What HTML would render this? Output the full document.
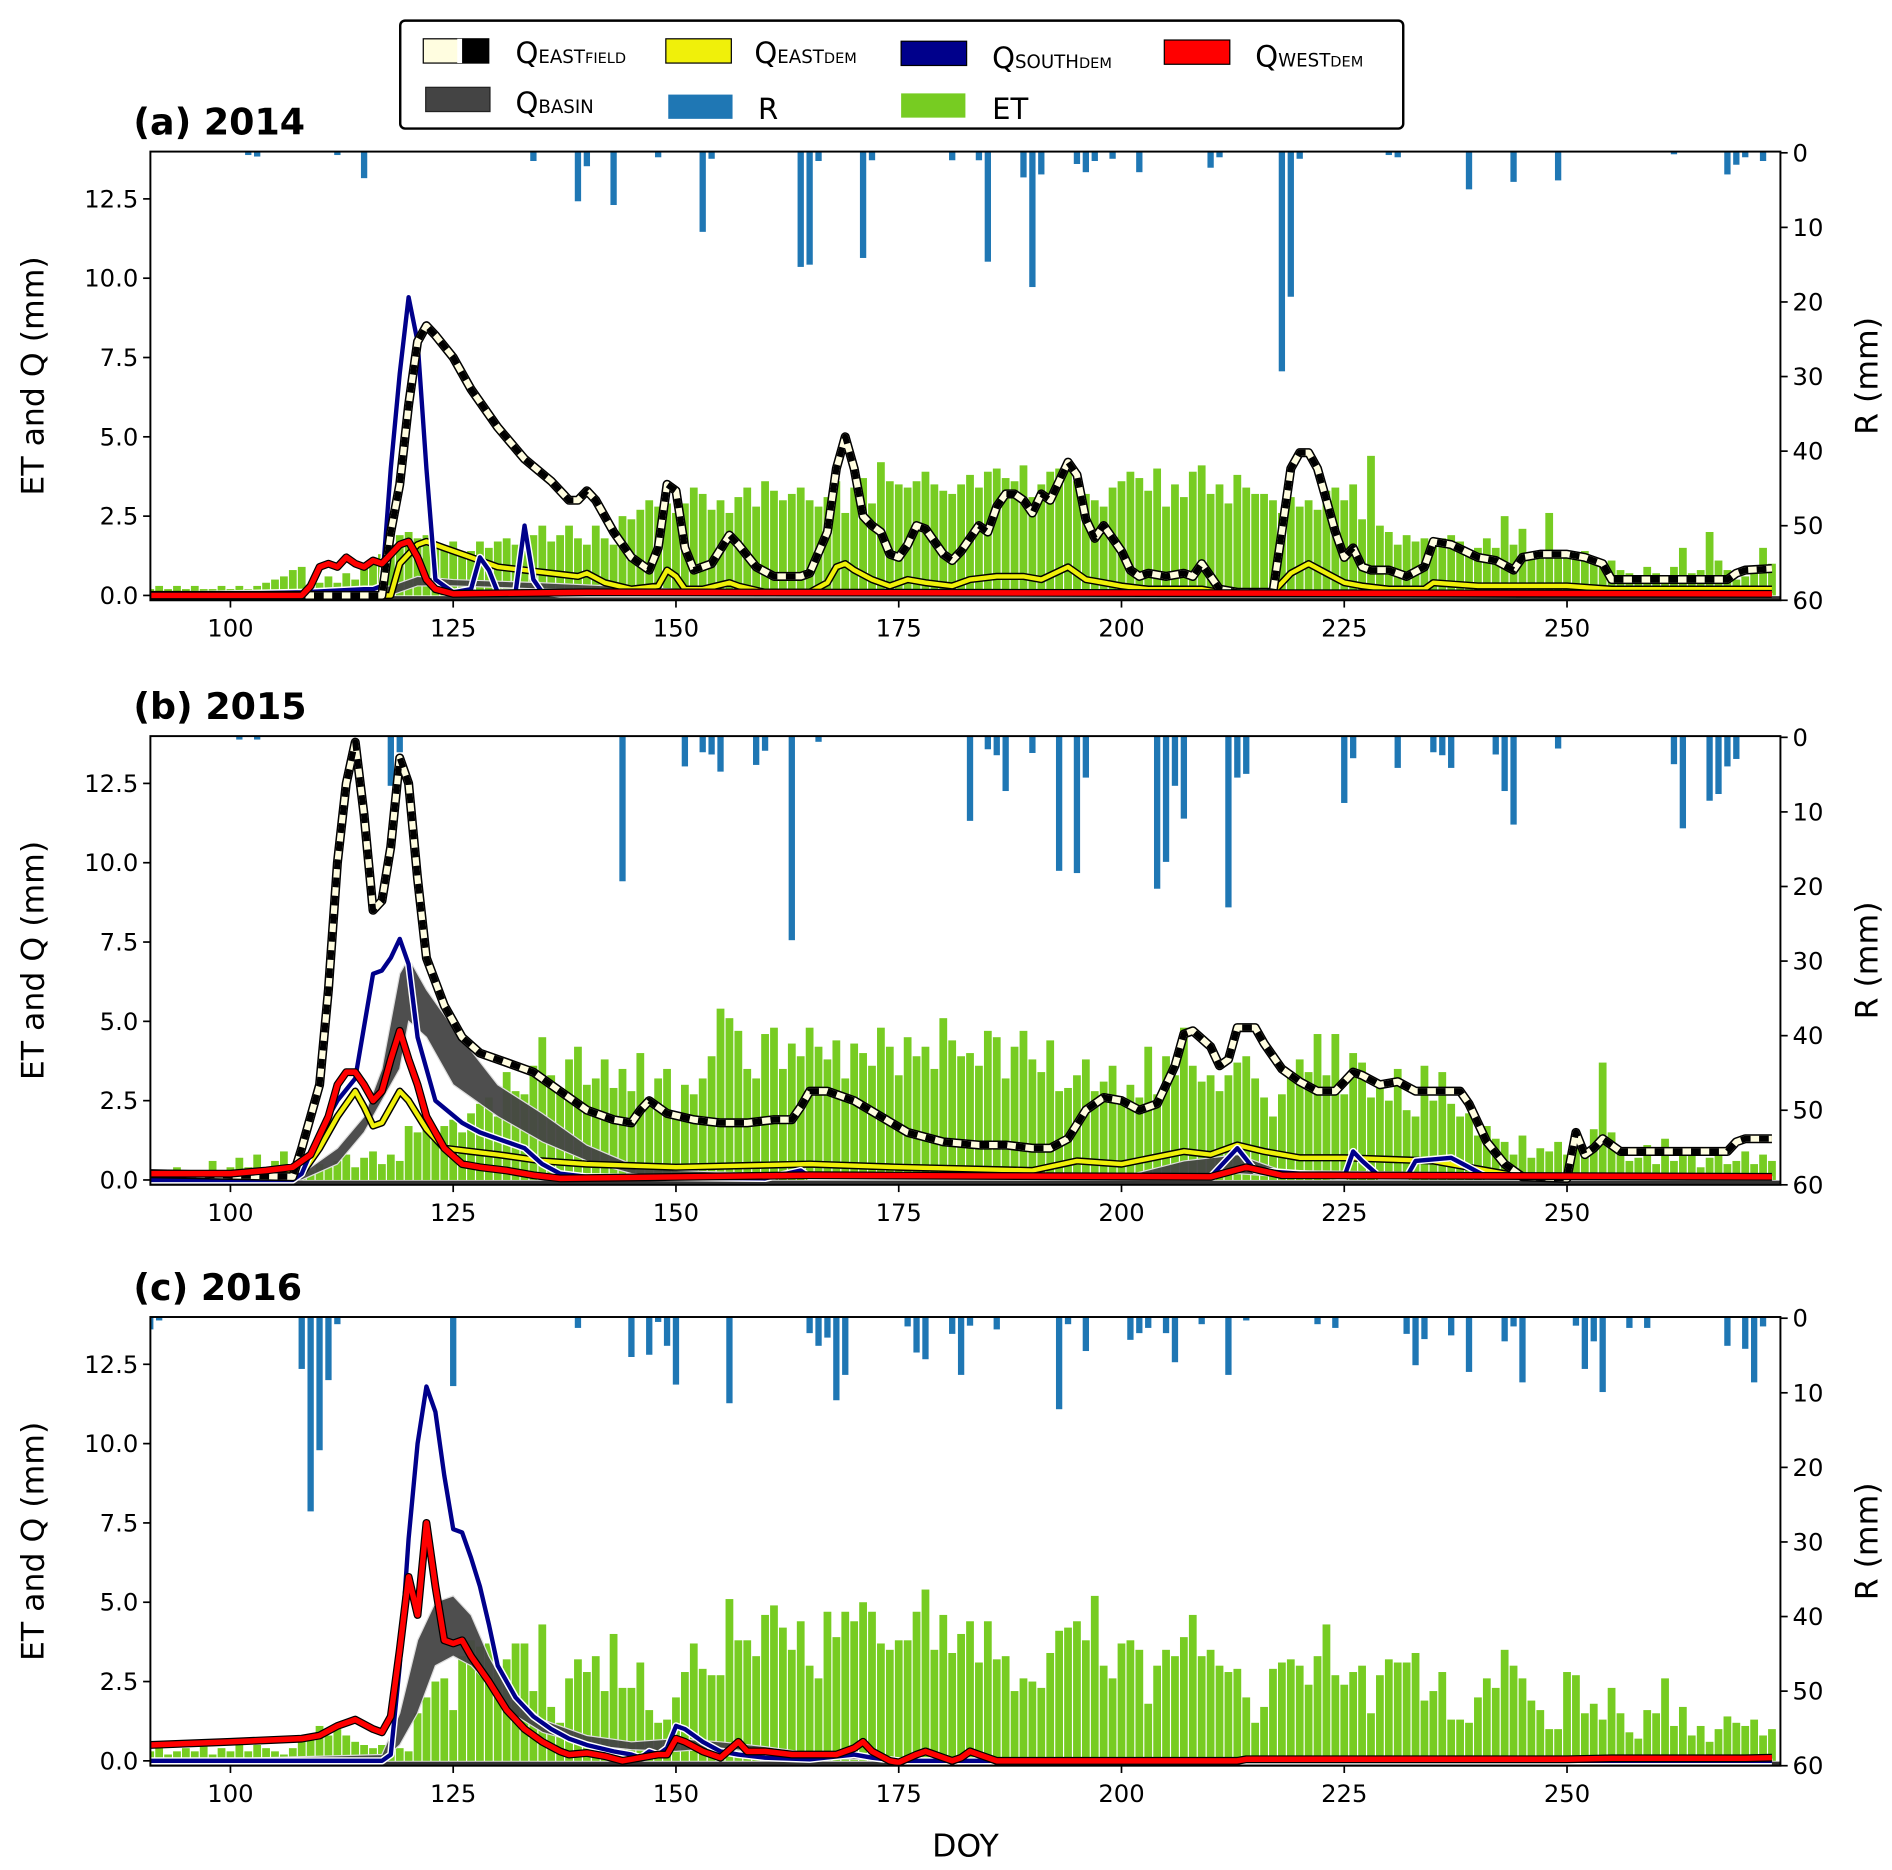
<!DOCTYPE html>
<html><head><meta charset="utf-8">
<style>
html,body{margin:0;padding:0;background:#fff;}
svg{display:block;font-family:"DejaVu Sans","Liberation Sans",sans-serif;}
</style></head>
<body>
<svg id="chart" width="1892" height="1870" viewBox="0 0 1560 1542" preserveAspectRatio="none" xmlns="http://www.w3.org/2000/svg">
<defs>
<clipPath id="clipA"><rect x="124" y="125" width="1344" height="370"/></clipPath>
<clipPath id="clipB"><rect x="124" y="607" width="1344" height="370"/></clipPath>
<clipPath id="clipC"><rect x="124" y="1086" width="1344" height="370"/></clipPath>
</defs>
<g>
<rect x="330" y="17" width="827" height="89" rx="4" fill="#fff" stroke="#000" stroke-width="2"/>
<g>
<rect x="349" y="32" width="54" height="20" fill="#fffde0" stroke="#000"/><rect x="380" y="32" width="23" height="20" fill="#000"/><rect x="377" y="32" width="4" height="20" fill="#fff"/>
<text x="425" y="52" font-size="24">Q<tspan font-size="15">EAST</tspan><tspan font-size="12">FIELD</tspan></text></g>
<g>
<rect x="549" y="32" width="54" height="20" fill="#f0f00a" stroke="#000"/>
<text x="622" y="52" font-size="24">Q<tspan font-size="15">EAST</tspan><tspan font-size="12">DEM</tspan></text></g>
<g>
<rect x="743" y="34" width="54" height="20" fill="#00008b" stroke="#000"/>
<text x="818" y="56" font-size="24">Q<tspan font-size="15">SOUTH</tspan><tspan font-size="12">DEM</tspan></text></g>
<g>
<rect x="960" y="33" width="54" height="20" fill="#f00" stroke="#000"/>
<text x="1035" y="55" font-size="24">Q<tspan font-size="15">WEST</tspan><tspan font-size="12">DEM</tspan></text></g>
<g>
<rect x="351" y="72" width="53" height="20" fill="#444" stroke="#222"/>
<text x="425" y="93" font-size="24">Q<tspan font-size="15">BASIN</tspan></text></g>
<g>
<rect x="551" y="78" width="53" height="20" fill="#1f77b4"/>
<text x="625" y="98" font-size="24">R</text></g>
<g>
<rect x="743" y="77" width="53" height="20" fill="#77cc22"/>
<text x="818" y="98" font-size="24">ET</text></g>
</g>
<g id="panels"></g>
<text x="796" y="1531" font-size="26" text-anchor="middle">DOY</text>
</svg>
<script>
// ---------- Panel (a) 2014 ----------
const etA=[.2,.3,.2,.3,.2,.3,.2,.2,.3,.2, .3,.2,.3,.4,.5,.6,.8,.9,.3,.4, .6,.4,.7,.5,.9,1.1,1.3,1.6,1.9,2.0, 1.8,1.9,1.6,1.5,1.7,1.3,1.4,1.7,1.5,1.7, 1.8,1.6,1.4,1.9,2.2,1.7,1.9,2.2,1.8,1.6, 2.2,1.8,1.6,2.5,2.4,2.7,3.0,2.8,2.9,2.6, 2.9,3.4,3.2,2.7,3.0,2.6,3.1,3.4,2.8,3.6, 3.3,3.0,3.2,3.4,3.0,2.8,3.1,3.6,2.6,3.4, 3.7,2.9,4.2,3.6,3.5,3.4,3.6,3.9,3.5,3.3, 3.2,3.5,3.8,3.4,3.9,4.0,3.7,3.6,4.1,3.1, 3.5,3.9,4.0,4.1,3.6,3.2,3.0,2.8,3.4,3.6, 3.9,3.7,3.3,4.0,2.8,3.5,3.1,3.9,4.1,3.2, 3.5,2.9,3.8,3.4,3.2,3.2,3.0,2.6,3.1,2.8, 3.0,2.7,3.3,3.4,3.0,3.5,2.4,4.4,2.2,2.0, 1.6,1.9,1.7,1.8,1.6,1.8,1.9,1.7,1.4,1.5, 1.8,1.5,2.5,1.6,2.1,1.2,1.4,2.6,1.3,1.4, 1.2,1.4,1.0,0.9,1.1,0.8,0.7,0.6,0.9,0.7, 0.6,0.9,1.5,0.7,0.8,2.0,1.1,0.8,0.5,0.6, 0.8,1.5,1.0];
const rDaysA=[102,103,112,115,134,139,140,143,148,153,154,164,165,166,171,172,181,184,185,189,190,191,195,196,197,199,202,210,211,218,219,220,230,231,239,244,249,262,268,269,270,272];
const rValsA=[0.3,0.5,0.3,3.4,1.1,6.5,1.8,7.0,0.6,10.6,0.8,15.3,15.0,1.1,14.1,1.0,1.0,1.0,14.6,3.3,18.0,2.9,1.5,2.6,1.1,0.8,2.6,2.0,0.6,29.3,19.3,0.8,0.3,0.6,4.9,3.9,3.7,0.2,2.9,1.6,0.6,1.1];
const efDaysA=[91,117,118,119,120,121,122,123,125,127,130,133,136,138,139,140,141,143,145,147,148,149,150,151,152,154,156,157,159,161,164,165,167,168,169,170,171,172,173,174,175,176,177,178,180,181,182,183,184,185,186,187,188,189,190,191,192,193,194,195,196,197,198,199,200,201,202,203,205,207,208,209,210,211,213,217,218,219,220,221,222,223,224,225,226,227,228,230,232,234,235,237,240,242,244,245,247,250,252,254,255,257,267,268,269,270,273];
const efValsA=[0,0,2,3.5,6,8,8.5,8.2,7.5,6.5,5.3,4.3,3.6,3.0,3.0,3.3,3.0,2.0,1.2,0.8,1.5,3.5,3.3,1.5,0.8,1.0,1.9,1.6,0.9,0.6,0.6,0.7,2.0,4.0,5.0,4.0,2.5,2.2,2.0,1.3,1.2,1.6,2.2,2.1,1.3,1.1,1.4,1.8,2.2,2.0,2.8,3.2,3.2,3.0,2.6,3.2,3.0,3.6,4.2,3.8,2.4,1.8,2.2,1.8,1.4,0.8,0.6,0.7,0.6,0.7,0.6,1.0,0.6,0.2,0.1,0.1,2.0,4.0,4.5,4.5,4.0,3.0,2.0,1.2,1.5,0.9,0.8,0.8,0.6,0.9,1.7,1.6,1.2,1.1,0.8,1.2,1.3,1.3,1.2,1.0,0.5,0.5,0.5,0.5,0.7,0.8,0.85];
const edDaysA=[91,118,119,121,122,124,127,130,133,136,139,140,142,145,148,149,150,151,153,156,157,160,165,167,168,169,170,172,174,176,178,181,183,186,189,191,194,196,198,200,203,209,211,217,219,221,223,225,227,230,234,235,240,250,255,273];
const edValsA=[0,0,1.0,1.6,1.7,1.5,1.2,0.9,0.8,0.7,0.6,0.7,0.4,0.2,0.3,0.8,0.6,0.2,0.2,0.4,0.3,0.1,0.1,0.4,0.9,1.0,0.8,0.5,0.3,0.5,0.4,0.3,0.5,0.6,0.6,0.5,0.9,0.5,0.4,0.3,0.2,0.2,0.1,0.1,0.7,1.0,0.7,0.4,0.3,0.2,0.2,0.4,0.3,0.3,0.2,0.2];
const sdDaysA=[91,108,115,116,117,118,119,120,121,122,123,125,127,128,129,130,132,133,134,135,137,273];
const sdValsA=[0,0.1,0.2,0.2,0.3,4,7,9.4,8,4,0.5,0.1,0.2,1.2,0.8,0.1,0.1,2.2,0.5,0.1,0.05,0.05];
const wdDaysA=[91,108,109,110,111,112,113,114,115,116,117,118,119,120,121,122,123,125,140,273];
const wdValsA=[0,0,0.3,0.9,1.0,0.9,1.2,1.0,0.9,1.1,1.0,1.3,1.6,1.7,1.2,0.5,0.2,0.05,0.1,0.05];
const bDaysA=[91,118,121,125,135,150,160,273];
const bLowA=[0,0,0.3,0.3,0.2,0.1,0,0];
const bHighA=[0,0.3,0.6,0.5,0.4,0.2,0.05,0.05];

// ---------- Panel (b) 2015 ----------
const etB=[.3,.2,.3,.4,.2,.3,.3,.6,.2,.4, .7,.4,.8,.3,.6,.9,.5,.4,.3,.5, .4,.6,.8,.4,.7,.9,.5,.8,.6,1.7, 1.5,1.6,1.4,1.7,1.9,1.5,2.1,2.4,2.6,2.0, 3.4,2.8,2.7,3.6,4.5,3.3,2.9,3.8,4.2,3.0, 3.2,3.8,2.9,3.5,2.8,4.0,2.6,3.2,3.5,2.1, 3.0,2.7,3.2,3.9,5.4,5.1,4.7,3.5,3.2,4.6, 4.8,3.5,4.3,3.9,4.8,4.2,3.8,4.4,3.2,4.3, 4.0,3.6,4.8,4.2,3.3,4.5,3.9,4.2,3.5,5.1, 4.4,3.9,4.0,3.6,4.7,4.5,3.2,4.2,4.7,3.8, 3.4,4.4,2.8,2.9,3.3,3.8,2.8,3.1,3.6,2.4, 3.0,2.6,4.2,2.7,3.9,3.3,4.8,3.6,3.1,3.3, 2.8,3.3,3.7,3.9,3.2,2.6,2.0,2.7,3.3,3.8, 3.4,4.6,3.3,4.6,2.7,4.0,3.7,2.6,3.1,2.5, 3.5,2.2,2.0,3.6,2.5,3.4,2.4,2.0,2.1,1.4, 1.7,1.3,1.2,0.8,1.4,0.7,1.0,0.9,1.2,0.8, 1.4,0.8,1.6,3.7,1.5,1.0,0.6,0.7,1.1,0.5, 1.3,0.6,0.9,0.8,0.4,0.7,1.0,0.5,0.6,0.9, 0.5,0.8,0.6];
const rDaysB=[101,103,118,119,144,151,153,154,155,159,160,163,166,183,185,186,187,190,193,195,196,204,205,206,207,212,213,214,225,226,231,235,236,237,242,243,244,249,262,263,266,267,268,269];
const rValsB=[0.3,0.3,6.5,2.0,19.3,3.9,2.0,2.3,4.6,3.7,1.8,27.2,0.6,11.2,1.6,2.4,7.2,2.1,17.9,18.2,5.4,20.3,16.7,6.5,10.9,22.8,5.4,4.9,8.8,2.8,4.1,2.0,2.4,4.1,2.3,7.2,11.7,1.5,3.6,12.2,8.5,7.6,3.9,2.9];
const efDaysB=[91,107,108,110,111,112,113,114,115,116,117,118,119,120,121,122,124,126,128,131,134,137,140,143,145,146,147,149,152,155,158,161,163,164,165,167,170,173,176,180,184,187,190,192,194,196,198,200,202,204,206,207,208,210,211,212,213,215,216,218,220,222,224,225,226,227,229,231,233,236,238,239,241,243,245,250,251,252,253,254,256,258,268,269,270,273];
const efValsB=[0.2,0.1,1.0,3.0,6.0,10.0,12.5,13.8,11.5,8.5,8.8,10.5,13.3,12.5,9.5,7.0,5.5,4.5,4.0,3.7,3.4,2.8,2.2,1.9,1.8,2.2,2.5,2.1,1.9,1.8,1.8,1.9,1.9,2.3,2.8,2.8,2.5,2.0,1.5,1.2,1.1,1.1,1.0,1.0,1.3,2.2,2.6,2.5,2.2,2.4,3.6,4.6,4.7,4.2,3.6,3.8,4.8,4.8,4.3,3.5,3.1,2.8,2.8,3.1,3.4,3.3,3.0,3.1,2.8,2.8,2.8,2.4,1.2,0.5,0.1,0.05,1.5,0.8,1.0,1.3,0.9,0.9,0.9,1.2,1.3,1.3];
const edDaysB=[91,108,110,112,114,115,116,117,119,120,122,124,127,130,135,140,150,165,175,190,195,200,207,210,213,216,220,225,235,241,245,273];
const edValsB=[0.2,0.2,1.0,2.0,2.8,2.3,1.7,1.8,2.8,2.5,1.6,1.0,0.9,0.8,0.6,0.5,0.4,0.5,0.4,0.3,0.6,0.5,0.9,0.8,1.1,0.9,0.7,0.7,0.6,0.3,0.1,0.1];
const sdDaysB=[91,107,108,110,112,114,116,117,118,119,120,121,123,126,128,131,133,135,137,140,160,164,165,210,213,215,225,226,227,229,232,233,237,239,241,273];
const sdValsB=[0,0,0.2,1.5,2.5,3.2,6.5,6.6,7.0,7.6,6.8,4.5,2.5,1.8,1.5,1.2,1.0,0.5,0.2,0.1,0.05,0.3,0.1,0.1,1.0,0.3,0.1,0.9,0.6,0.1,0.1,0.6,0.7,0.4,0.1,0.1];
const wdDaysB=[91,100,104,107,109,111,112,113,114,115,116,117,118,119,120,121,122,124,126,128,131,134,137,165,210,214,218,273];
const wdValsB=[0.2,0.2,0.3,0.4,0.8,2.0,3.0,3.4,3.4,3.0,2.5,2.8,3.8,4.7,3.8,3.0,2.0,1.0,0.5,0.4,0.3,0.15,0.05,0.15,0.1,0.4,0.15,0.1];
const bDaysB=[91,108,112,115,117,119,120,122,125,130,135,140,145,150,160,200,207,213,218,273];
const bLowB=[0,0,0.5,1.5,2.5,3.5,5.0,4.5,3.0,2.0,1.2,0.6,0.2,0.1,0.1,0.05,0.1,0.2,0.1,0];
const bHighB=[0,0.2,1.0,2.0,3.5,6.5,7.0,6.0,4.8,3.0,2.1,1.1,0.5,0.3,0.2,0.1,0.6,0.8,0.3,0.1];

// ---------- Panel (c) 2016 ----------
const etC=[.3,.4,.2,.3,.4,.3,.5,.2,.4,.3, .6,.3,.5,.4,.3,.2,.4,.7,.8,1.1, .8,1.0,.8,.6,.5,.4,.5,.3,.4,.3, 1.5,2.0,2.5,2.6,1.6,3.3,3.8,3.6,3.7,2.9, 3.2,3.7,3.7,2.2,4.3,1.7,1.2,2.6,3.2,2.8, 3.3,2.2,4.0,2.3,2.3,3.1,1.6,1.2,1.3,2.0, 2.8,3.7,2.9,2.7,2.7,5.1,3.8,3.8,3.3,4.6, 4.9,4.2,3.5,4.4,3.0,2.6,4.7,3.9,4.7,4.4, 5.0,4.7,3.7,3.5,3.8,3.8,4.7,5.4,3.5,4.6, 3.4,4.0,4.4,3.1,4.4,3.2,3.3,2.2,2.6,2.5, 2.3,3.4,4.1,4.2,4.4,3.8,5.2,3.0,2.6,3.7, 3.8,3.5,1.8,3.0,3.5,3.3,3.9,4.6,3.3,3.5, 3.0,2.8,2.9,2.0,1.2,1.7,2.9,3.1,3.2,3.0, 2.4,3.3,4.3,2.7,2.4,2.8,3.0,1.5,2.7,3.2, 3.1,3.1,3.4,1.9,2.2,2.8,1.3,1.3,1.2,2.0, 2.6,2.3,3.5,3.0,2.6,1.9,1.6,1.0,1.0,2.8, 2.7,1.5,1.8,1.3,2.3,1.5,0.9,0.7,1.6,1.5, 2.6,1.1,1.7,0.8,1.1,0.6,1.0,1.4,1.2,1.1, 1.3,0.8,1.0];
const rDaysC=[91,92,108,109,110,111,112,125,139,145,147,148,149,150,156,165,166,167,168,169,176,177,178,181,182,183,186,193,194,196,201,202,203,205,206,209,212,214,222,224,232,233,234,237,239,243,244,245,251,252,253,254,257,259,268,270,271,272];
const rValsC=[1.5,0.3,6.8,25.9,17.7,8.3,0.8,9.1,1.3,5.2,4.9,0.5,3.7,8.9,11.4,2.0,3.7,2.6,11.0,7.6,1.1,4.6,5.5,2.1,7.6,1.0,1.5,12.2,0.8,4.4,2.9,2.0,1.3,2.0,5.9,0.8,7.6,0.3,0.8,1.3,2.1,6.3,2.8,2.3,7.2,3.1,1.1,8.6,1.0,6.8,3.1,9.9,1.3,1.3,3.7,4.1,8.6,1.1];
const sdDaysC=[91,117,118,119,120,121,122,123,124,125,126,127,128,129,130,132,134,136,138,140,143,145,146,147,148,149,150,151,153,155,157,160,165,170,172,175,273];
const sdValsC=[0,0,0.2,3.0,7.0,10.0,11.8,11.0,9.0,7.3,7.2,6.4,5.5,4.3,3.0,2.0,1.4,1.0,0.7,0.5,0.3,0.2,0.1,0.3,0.2,0.4,1.1,1.0,0.6,0.3,0.2,0.1,0.05,0.2,0.1,0,0];
const wdDaysC=[91,100,108,110,112,114,116,117,118,119,120,121,122,123,124,125,126,127,129,131,133,135,137,138,140,142,144,146,148,149,150,151,153,155,157,158,160,163,166,168,170,171,172,174,175,177,178,180,181,182,183,184,186,190,213,214,250,255,270,273];
const wdValsC=[0.5,0.6,0.7,0.8,1.1,1.3,1.0,0.9,1.4,3.5,5.8,4.6,7.5,5.5,3.8,3.7,3.8,3.3,2.5,1.6,1.0,0.6,0.3,0.2,0.25,0.15,0.0,0.1,0.2,0.2,0.7,0.6,0.3,0.1,0.6,0.3,0.3,0.2,0.2,0.2,0.4,0.6,0.3,0.0,-0.05,0.2,0.3,0.1,0.0,0.1,0.3,0.2,0.0,0.0,0.0,0.05,0.05,0.08,0.08,0.1];
const bDaysC=[91,117,119,121,123,125,127,129,131,135,140,145,150,155,160,165,175,200,273];
const bLowC=[0,0,0.5,1.5,3.0,3.3,3.0,2.4,1.6,0.9,0.5,0.35,0.3,0.4,0.25,0.1,0,-0.05,0];
const bHighC=[0,0.2,1.5,3.8,5.0,5.2,4.6,3.3,2.3,1.3,0.8,0.6,0.7,0.6,0.45,0.25,0.1,0.05,0.05];

const yTickLabels=["0.0","2.5","5.0","7.5","10.0","12.5"];
const yTickVals=[0,2.5,5,7.5,10,12.5];
const rTickVals=[0,10,20,30,40,50,60];
const xTickVals=[100,125,150,175,200,225,250];

const NS="http://www.w3.org/2000/svg";
const root=document.getElementById('panels');
function mk(tag,attrs,parent){const e=document.createElementNS(NS,tag);for(const k in attrs)e.setAttribute(k,attrs[k]);parent.appendChild(e);return e;}
const L=124,W=1344,H=370;
function xs(d){return 190+(d-100)*7.347;}

const panels=[
 {title:"(a) 2014",top:125,clip:"clipA",et:etA,rd:rDaysA,rv:rValsA,ef:[efDaysA,efValsA],ed:[edDaysA,edValsA],sd:[sdDaysA,sdValsA],wd:[wdDaysA,wdValsA],b:[bDaysA,bLowA,bHighA],key:"a"},
 {title:"(b) 2015",top:607,clip:"clipB",et:etB,rd:rDaysB,rv:rValsB,ef:[efDaysB,efValsB],ed:[edDaysB,edValsB],sd:[sdDaysB,sdValsB],wd:[wdDaysB,wdValsB],b:[bDaysB,bLowB,bHighB],key:"b"},
 {title:"(c) 2016",top:1086,clip:"clipC",et:etC,rd:rDaysC,rv:rValsC,ef:null,ed:null,sd:[sdDaysC,sdValsC],wd:[wdDaysC,wdValsC],b:[bDaysC,bLowC,bHighC],key:"c"}
];

panels.forEach(p=>{
 const top=p.top,bot=top+H;
 const ys=v=>bot-4-v*26.16;
 const rs=m=>top+1+m*6.15;
 const g=mk('g',{},root);
 
 
 const t=mk('text',{x:110,y:top-14,'font-size':30,'font-weight':'bold'},g);
 t.textContent=p.title;
 
 
 const plot=mk('g',{'clip-path':'url(#'+p.clip+')'},g);
 
 
 p.et.forEach((v,i)=>{
  const d=91+i;
  const r=mk('rect',{x:xs(d)-3.2,y:ys(v),width:6.4,height:Math.max(0,ys(0)-ys(v)),fill:'#77cc22'},plot);
  
  
 });
 p.rd.forEach((d,i)=>{
  const r=mk('rect',{x:xs(d)-2.6,y:top,width:5.2,height:rs(p.rv[i])-top,fill:'#1f77b4'},plot);
  
  
 });
 const [bd,bl,bh]=p.b;
 let pts=bd.map((d,i)=>xs(d)+','+ys(bh[i])).concat(bd.slice().reverse().map((d,j)=>{const i=bd.length-1-j;return xs(d)+','+ys(bl[i]);}));
 const band=mk('polygon',{points:pts.join(' '),fill:'#444','fill-opacity':0.95,stroke:'#ddd','stroke-width':1},plot);
 
 
 const base=mk('line',{x1:L,x2:L+W,y1:ys(-0.08),y2:ys(-0.08),stroke:'#333','stroke-width':3},plot);
 
 
 function path(dv){const [ds,vs]=dv;return ds.map((d,i)=>(i?'L':'M')+xs(d).toFixed(1)+','+ys(vs[i]).toFixed(1)).join(' ');}
 function line(dv,name,layers){
  const lg=mk('g',{},plot);
  
  
  const dd=path(dv);
  layers.forEach(l=>{const a={d:dd,fill:'none',stroke:l[0],'stroke-width':l[1],'stroke-linejoin':'round'};if(l[2])a['stroke-dasharray']=l[2];mk('path',a,lg);});
 }
 if(p.ed) line(p.ed,'qeastdem-line',[['#000',6],['#f0f00a',3.6]]);
 line(p.sd,'qsouthdem-line',[['#fff',6],['#00008b',3.6]]);
 if(p.ef) line(p.ef,'qeastfield-line',[['#000',7.5],['#fffde0',5],['#000',5,'8,7']]);
 line(p.wd,'qwestdem-line',[['#000',6.5],['#ff0000',4.5]]);
 const fr=mk('rect',{x:L,y:top,width:W,height:H,fill:'none',stroke:'#000','stroke-width':1.6},g);
 
 
 yTickVals.forEach((v,i)=>{
  mk('line',{x1:L-6,x2:L,y1:ys(v),y2:ys(v),stroke:'#000','stroke-width':1.4},g);
  const tx=mk('text',{x:L-10,y:ys(v)+7,'font-size':20,'text-anchor':'end'},g);
  tx.textContent=yTickLabels[i];
  
  
 });
 rTickVals.forEach(m=>{
  mk('line',{x1:L+W,x2:L+W+6,y1:rs(m),y2:rs(m),stroke:'#000','stroke-width':1.4},g);
  const tx=mk('text',{x:L+W+10,y:rs(m)+7,'font-size':20},g);
  tx.textContent=String(m);
  
  
 });
 xTickVals.forEach(d=>{
  mk('line',{x1:xs(d),x2:xs(d),y1:bot,y2:bot+6,stroke:'#000','stroke-width':1.4},g);
  const tx=mk('text',{x:xs(d),y:bot+30,'font-size':20,'text-anchor':'middle'},g);
  tx.textContent=String(d);
  
  
 });
 const yl=mk('text',{x:0,y:0,'font-size':26,'text-anchor':'middle',transform:'translate(36,'+(top+H/2)+') rotate(-90)'},g);
 yl.textContent='ET and Q (mm)';
 
 
 const rl=mk('text',{x:0,y:0,'font-size':26,'text-anchor':'middle',transform:'translate(1548,'+(top+H/2)+') rotate(-90)'},g);
 rl.textContent='R (mm)';
 
 
});
</script>
</body></html>
